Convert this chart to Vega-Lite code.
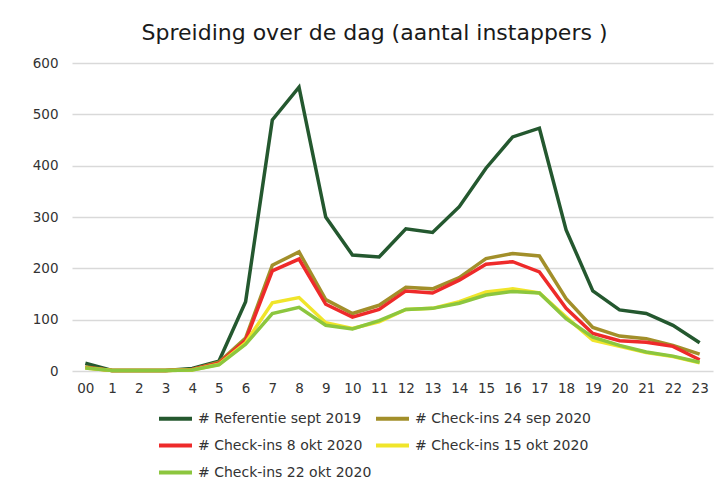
{
  "$schema": "https://vega.github.io/schema/vega-lite/v6.json",
  "width": 641,
  "height": 308,
  "autosize": {"type": "none"},
  "padding": {"left": 72, "top": 63, "right": 8, "bottom": 112},
  "background": "white",
  "title": {
    "text": "Spreiding over de dag (aantal instappers )",
    "font": "DejaVu Sans",
    "fontSize": 22,
    "fontWeight": "normal",
    "color": "#1a1a1a",
    "anchor": "middle",
    "dx": -18,
    "offset": 11
  },
  "datasets": {
    "d": [
      {"uur":"00","reeks":"# Referentie sept 2019","waarde":15},
      {"uur":"1","reeks":"# Referentie sept 2019","waarde":1},
      {"uur":"2","reeks":"# Referentie sept 2019","waarde":1},
      {"uur":"3","reeks":"# Referentie sept 2019","waarde":1},
      {"uur":"4","reeks":"# Referentie sept 2019","waarde":5},
      {"uur":"5","reeks":"# Referentie sept 2019","waarde":19},
      {"uur":"6","reeks":"# Referentie sept 2019","waarde":135},
      {"uur":"7","reeks":"# Referentie sept 2019","waarde":489},
      {"uur":"8","reeks":"# Referentie sept 2019","waarde":553},
      {"uur":"9","reeks":"# Referentie sept 2019","waarde":300},
      {"uur":"10","reeks":"# Referentie sept 2019","waarde":226},
      {"uur":"11","reeks":"# Referentie sept 2019","waarde":222},
      {"uur":"12","reeks":"# Referentie sept 2019","waarde":277},
      {"uur":"13","reeks":"# Referentie sept 2019","waarde":270},
      {"uur":"14","reeks":"# Referentie sept 2019","waarde":320},
      {"uur":"15","reeks":"# Referentie sept 2019","waarde":395},
      {"uur":"16","reeks":"# Referentie sept 2019","waarde":456},
      {"uur":"17","reeks":"# Referentie sept 2019","waarde":473},
      {"uur":"18","reeks":"# Referentie sept 2019","waarde":275},
      {"uur":"19","reeks":"# Referentie sept 2019","waarde":156},
      {"uur":"20","reeks":"# Referentie sept 2019","waarde":119},
      {"uur":"21","reeks":"# Referentie sept 2019","waarde":112},
      {"uur":"22","reeks":"# Referentie sept 2019","waarde":89},
      {"uur":"23","reeks":"# Referentie sept 2019","waarde":55},

      {"uur":"00","reeks":"# Check-ins 24 sep 2020","waarde":8},
      {"uur":"1","reeks":"# Check-ins 24 sep 2020","waarde":1},
      {"uur":"2","reeks":"# Check-ins 24 sep 2020","waarde":1},
      {"uur":"3","reeks":"# Check-ins 24 sep 2020","waarde":1},
      {"uur":"4","reeks":"# Check-ins 24 sep 2020","waarde":3},
      {"uur":"5","reeks":"# Check-ins 24 sep 2020","waarde":17},
      {"uur":"6","reeks":"# Check-ins 24 sep 2020","waarde":64},
      {"uur":"7","reeks":"# Check-ins 24 sep 2020","waarde":206},
      {"uur":"8","reeks":"# Check-ins 24 sep 2020","waarde":232},
      {"uur":"9","reeks":"# Check-ins 24 sep 2020","waarde":139},
      {"uur":"10","reeks":"# Check-ins 24 sep 2020","waarde":112},
      {"uur":"11","reeks":"# Check-ins 24 sep 2020","waarde":128},
      {"uur":"12","reeks":"# Check-ins 24 sep 2020","waarde":163},
      {"uur":"13","reeks":"# Check-ins 24 sep 2020","waarde":160},
      {"uur":"14","reeks":"# Check-ins 24 sep 2020","waarde":182},
      {"uur":"15","reeks":"# Check-ins 24 sep 2020","waarde":219},
      {"uur":"16","reeks":"# Check-ins 24 sep 2020","waarde":229},
      {"uur":"17","reeks":"# Check-ins 24 sep 2020","waarde":224},
      {"uur":"18","reeks":"# Check-ins 24 sep 2020","waarde":141},
      {"uur":"19","reeks":"# Check-ins 24 sep 2020","waarde":85},
      {"uur":"20","reeks":"# Check-ins 24 sep 2020","waarde":68},
      {"uur":"21","reeks":"# Check-ins 24 sep 2020","waarde":63},
      {"uur":"22","reeks":"# Check-ins 24 sep 2020","waarde":50},
      {"uur":"23","reeks":"# Check-ins 24 sep 2020","waarde":33},

      {"uur":"00","reeks":"# Check-ins 8 okt 2020","waarde":7},
      {"uur":"1","reeks":"# Check-ins 8 okt 2020","waarde":1},
      {"uur":"2","reeks":"# Check-ins 8 okt 2020","waarde":1},
      {"uur":"3","reeks":"# Check-ins 8 okt 2020","waarde":1},
      {"uur":"4","reeks":"# Check-ins 8 okt 2020","waarde":3},
      {"uur":"5","reeks":"# Check-ins 8 okt 2020","waarde":15},
      {"uur":"6","reeks":"# Check-ins 8 okt 2020","waarde":60},
      {"uur":"7","reeks":"# Check-ins 8 okt 2020","waarde":195},
      {"uur":"8","reeks":"# Check-ins 8 okt 2020","waarde":218},
      {"uur":"9","reeks":"# Check-ins 8 okt 2020","waarde":130},
      {"uur":"10","reeks":"# Check-ins 8 okt 2020","waarde":105},
      {"uur":"11","reeks":"# Check-ins 8 okt 2020","waarde":120},
      {"uur":"12","reeks":"# Check-ins 8 okt 2020","waarde":156},
      {"uur":"13","reeks":"# Check-ins 8 okt 2020","waarde":152},
      {"uur":"14","reeks":"# Check-ins 8 okt 2020","waarde":177},
      {"uur":"15","reeks":"# Check-ins 8 okt 2020","waarde":208},
      {"uur":"16","reeks":"# Check-ins 8 okt 2020","waarde":213},
      {"uur":"17","reeks":"# Check-ins 8 okt 2020","waarde":193},
      {"uur":"18","reeks":"# Check-ins 8 okt 2020","waarde":122},
      {"uur":"19","reeks":"# Check-ins 8 okt 2020","waarde":73},
      {"uur":"20","reeks":"# Check-ins 8 okt 2020","waarde":59},
      {"uur":"21","reeks":"# Check-ins 8 okt 2020","waarde":56},
      {"uur":"22","reeks":"# Check-ins 8 okt 2020","waarde":48},
      {"uur":"23","reeks":"# Check-ins 8 okt 2020","waarde":22},

      {"uur":"00","reeks":"# Check-ins 15 okt 2020","waarde":6},
      {"uur":"1","reeks":"# Check-ins 15 okt 2020","waarde":1},
      {"uur":"2","reeks":"# Check-ins 15 okt 2020","waarde":1},
      {"uur":"3","reeks":"# Check-ins 15 okt 2020","waarde":1},
      {"uur":"4","reeks":"# Check-ins 15 okt 2020","waarde":2},
      {"uur":"5","reeks":"# Check-ins 15 okt 2020","waarde":13},
      {"uur":"6","reeks":"# Check-ins 15 okt 2020","waarde":55},
      {"uur":"7","reeks":"# Check-ins 15 okt 2020","waarde":133},
      {"uur":"8","reeks":"# Check-ins 15 okt 2020","waarde":143},
      {"uur":"9","reeks":"# Check-ins 15 okt 2020","waarde":94},
      {"uur":"10","reeks":"# Check-ins 15 okt 2020","waarde":83},
      {"uur":"11","reeks":"# Check-ins 15 okt 2020","waarde":96},
      {"uur":"12","reeks":"# Check-ins 15 okt 2020","waarde":120},
      {"uur":"13","reeks":"# Check-ins 15 okt 2020","waarde":122},
      {"uur":"14","reeks":"# Check-ins 15 okt 2020","waarde":135},
      {"uur":"15","reeks":"# Check-ins 15 okt 2020","waarde":154},
      {"uur":"16","reeks":"# Check-ins 15 okt 2020","waarde":160},
      {"uur":"17","reeks":"# Check-ins 15 okt 2020","waarde":152},
      {"uur":"18","reeks":"# Check-ins 15 okt 2020","waarde":105},
      {"uur":"19","reeks":"# Check-ins 15 okt 2020","waarde":60},
      {"uur":"20","reeks":"# Check-ins 15 okt 2020","waarde":48},
      {"uur":"21","reeks":"# Check-ins 15 okt 2020","waarde":36},
      {"uur":"22","reeks":"# Check-ins 15 okt 2020","waarde":28},
      {"uur":"23","reeks":"# Check-ins 15 okt 2020","waarde":16},

      {"uur":"00","reeks":"# Check-ins 22 okt 2020","waarde":6},
      {"uur":"1","reeks":"# Check-ins 22 okt 2020","waarde":1},
      {"uur":"2","reeks":"# Check-ins 22 okt 2020","waarde":1},
      {"uur":"3","reeks":"# Check-ins 22 okt 2020","waarde":1},
      {"uur":"4","reeks":"# Check-ins 22 okt 2020","waarde":2},
      {"uur":"5","reeks":"# Check-ins 22 okt 2020","waarde":12},
      {"uur":"6","reeks":"# Check-ins 22 okt 2020","waarde":52},
      {"uur":"7","reeks":"# Check-ins 22 okt 2020","waarde":112},
      {"uur":"8","reeks":"# Check-ins 22 okt 2020","waarde":124},
      {"uur":"9","reeks":"# Check-ins 22 okt 2020","waarde":89},
      {"uur":"10","reeks":"# Check-ins 22 okt 2020","waarde":82},
      {"uur":"11","reeks":"# Check-ins 22 okt 2020","waarde":98},
      {"uur":"12","reeks":"# Check-ins 22 okt 2020","waarde":120},
      {"uur":"13","reeks":"# Check-ins 22 okt 2020","waarde":122},
      {"uur":"14","reeks":"# Check-ins 22 okt 2020","waarde":132},
      {"uur":"15","reeks":"# Check-ins 22 okt 2020","waarde":148},
      {"uur":"16","reeks":"# Check-ins 22 okt 2020","waarde":155},
      {"uur":"17","reeks":"# Check-ins 22 okt 2020","waarde":152},
      {"uur":"18","reeks":"# Check-ins 22 okt 2020","waarde":102},
      {"uur":"19","reeks":"# Check-ins 22 okt 2020","waarde":66},
      {"uur":"20","reeks":"# Check-ins 22 okt 2020","waarde":50},
      {"uur":"21","reeks":"# Check-ins 22 okt 2020","waarde":37},
      {"uur":"22","reeks":"# Check-ins 22 okt 2020","waarde":29},
      {"uur":"23","reeks":"# Check-ins 22 okt 2020","waarde":17}
    ]
  },
  "data": {"name": "d"},
  "mark": {"type": "line", "strokeWidth": 3.5, "strokeJoin": "miter", "strokeCap": "butt"},
  "encoding": {
    "x": {
      "field": "uur",
      "type": "ordinal",
      "sort": null,
      "scale": {"type": "point", "padding": 0.5},
      "axis": {
        "title": null,
        "labelAngle": 0,
        "ticks": false,
        "domain": false,
        "grid": false,
        "labelPadding": 10,
        "labelFont": "DejaVu Sans",
        "labelFontSize": 13.5,
        "labelColor": "#333333"
      }
    },
    "y": {
      "field": "waarde",
      "type": "quantitative",
      "scale": {"domain": [0, 600], "nice": false},
      "axis": {
        "title": null,
        "values": [0, 100, 200, 300, 400, 500, 600],
        "ticks": false,
        "domain": false,
        "grid": true,
        "gridColor": "#d9d9d9",
        "gridWidth": 1.5,
        "labelPadding": 14,
        "labelFont": "DejaVu Sans",
        "labelFontSize": 13.5,
        "labelColor": "#333333"
      }
    },
    "color": {
      "field": "reeks",
      "type": "nominal",
      "sort": ["# Referentie sept 2019", "# Check-ins 24 sep 2020", "# Check-ins 8 okt 2020", "# Check-ins 15 okt 2020", "# Check-ins 22 okt 2020"],
      "scale": {
        "domain": ["# Referentie sept 2019", "# Check-ins 24 sep 2020", "# Check-ins 8 okt 2020", "# Check-ins 15 okt 2020", "# Check-ins 22 okt 2020"],
        "range": ["#24582f", "#a28f2a", "#ee2a2a", "#f0e52a", "#8cc63e"]
      },
      "legend": {
        "title": null,
        "orient": "none",
        "legendX": 85,
        "legendY": 337,
        "columns": 2,
        "direction": "horizontal",
        "symbolType": "stroke",
        "symbolSize": 1089,
        "symbolStrokeWidth": 4,
        "labelFont": "DejaVu Sans",
        "labelFontSize": 14,
        "labelColor": "#333333",
        "labelOffset": 4,
        "columnPadding": -4,
        "rowPadding": -8.5,
        "labelLimit": 300
      }
    }
  },
  "config": {
    "view": {"stroke": null}
  }
}
